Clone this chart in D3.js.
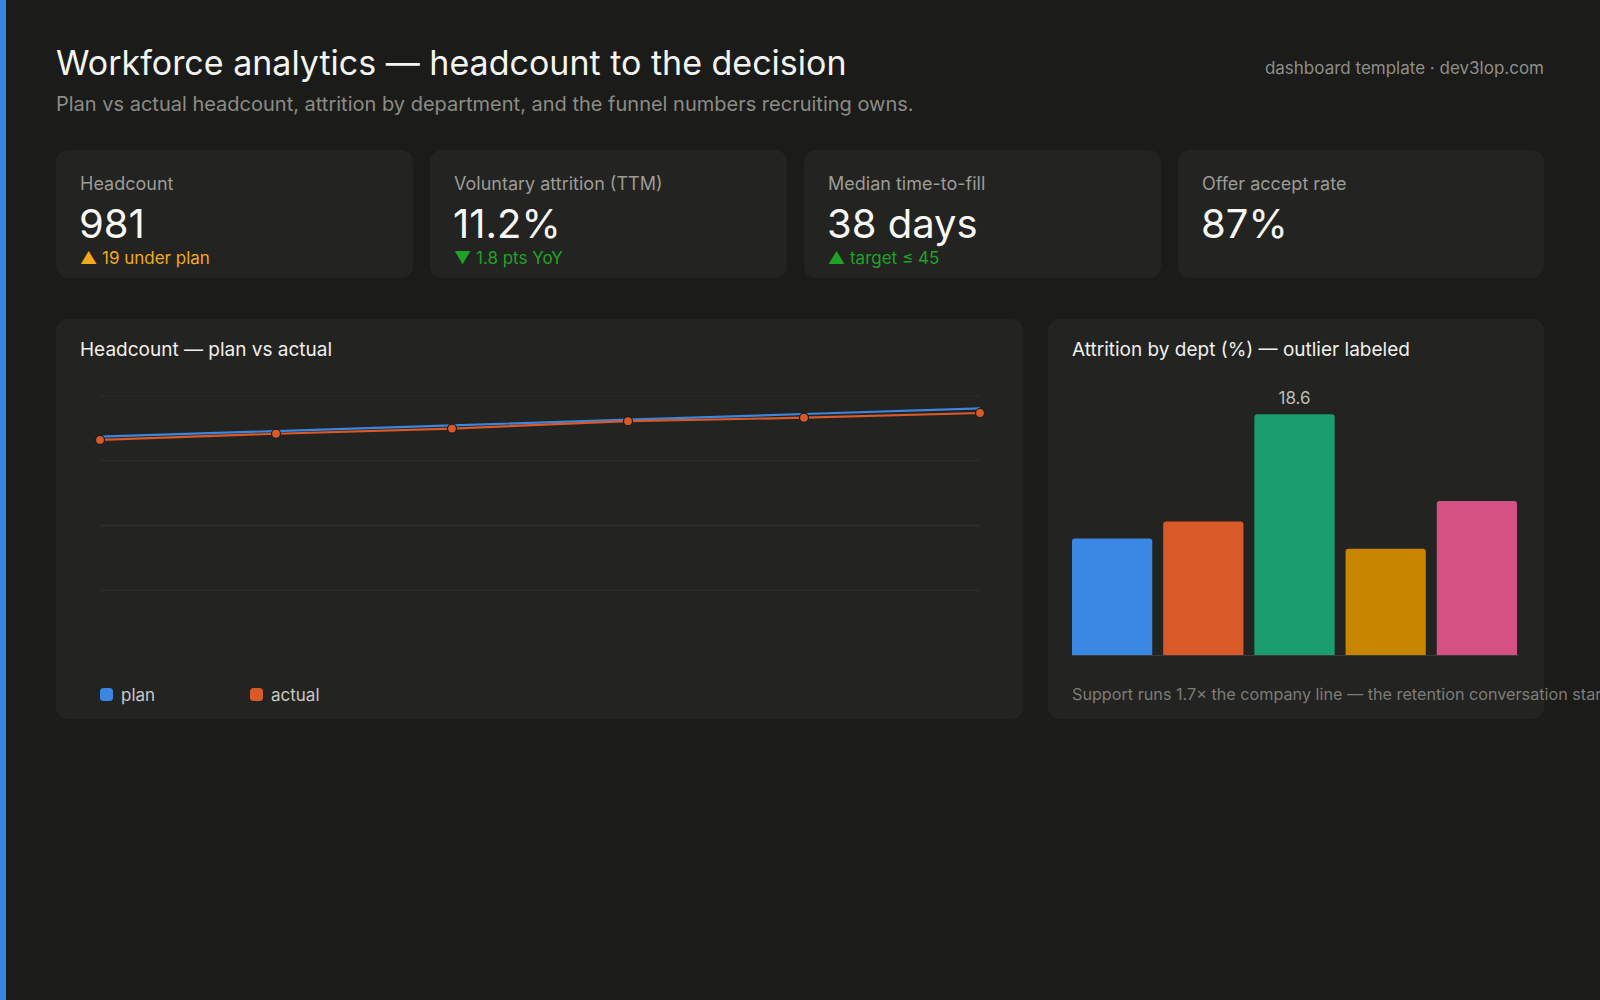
<!DOCTYPE html>
<html>
<head>
<meta charset="utf-8">
<title>Workforce analytics</title>
<script src="https://cdn.jsdelivr.net/npm/d3@7"></script>
<style>
  body { margin: 0; background: #1b1b1a; overflow: hidden; }
  svg { display: block; font-family: "Inter", "Noto Sans", sans-serif; }
</style>
</head>
<body>
<script>
// data
const months = ["Jan", "Feb", "Mar", "Apr", "May", "Jun"];
const planHeadcount = [885, 908, 931, 954, 977, 1000];
const actualHeadcount = [872, 897, 918, 948, 962, 981];

const depts = ["Engineering", "Sales", "Support", "Operations", "Marketing"];
const attritionPct = [9.0, 10.3, 18.6, 8.2, 11.9];

const kpiLabels = ["Headcount", "Voluntary attrition (TTM)", "Median time-to-fill", "Offer accept rate"];
const kpiValues = ["981", "11.2%", "38 days", "87%"];
const kpiDeltas = ["▲ 19 under plan", "▼ 1.8 pts YoY", "▲ target ≤ 45", ""];
const kpiTones = ["warn", "good", "good", ""];

const deptColors = ["#3b88e4", "#d95a28", "#1a9e70", "#c88500", "#d45283"];
const toneColor = { warn: "#f2a91f", good: "#1fa324" };

let W = 1600, H = 1000;
let svg = d3.select("body").append("svg").attr("width", W).attr("height", H);

svg.append("rect").attr("width", 6).attr("height", H).attr("fill", "#3a86e0");

// header
svg.append("text").attr("x", 56).attr("y", 75)
    .attr("font-size", 34).attr("fill", "#f4f4f0")
    .text("Workforce analytics — headcount to the decision");
svg.append("text").attr("x", 56).attr("y", 111)
    .attr("font-size", 20).attr("fill", "#8c8c86")
    .text("Plan vs actual headcount, attrition by department, and the funnel numbers recruiting owns.");
svg.append("text").attr("x", 1544).attr("y", 74).attr("text-anchor", "end")
    .attr("font-size", 17).attr("fill", "#8f8f89")
    .text("dashboard template · dev3lop.com");

// kpi cards
let cardW = 357, cardGap = 17;
kpiLabels.forEach((lab, i) => {
    let x = 56 + i * (cardW + cardGap);
    let w = i === kpiLabels.length - 1 ? 1544 - x : cardW;
    let g = svg.append("g").attr("transform", `translate(${x},150)`);
    g.append("rect").attr("width", w).attr("height", 128).attr("rx", 12).attr("fill", "#232322");
    g.append("text").attr("x", 24).attr("y", 40).attr("font-size", 18).attr("fill", "#9c9c96").text(lab);
    g.append("text").attr("x", 23).attr("y", 88).attr("font-size", 40).attr("fill", "#f7f7f3").text(kpiValues[i]);
    if (kpiDeltas[i]) {
        g.append("text").attr("x", 24).attr("y", 114).attr("font-size", 17)
            .attr("fill", toneColor[kpiTones[i]]).text(kpiDeltas[i]);
    }
});

// panels
function panel(x, w, title) {
    svg.append("rect").attr("x", x).attr("y", 319).attr("width", w).attr("height", 400)
        .attr("rx", 12).attr("fill", "#232322");
    svg.append("text").attr("x", x + 24).attr("y", 355.5).attr("font-size", 19)
        .attr("fill", "#f0f0ec").text(title);
}
panel(56, 967.5, "Headcount — plan vs actual");
panel(1048, 496, "Attrition by dept (%) — outlier labeled");

// line chart
let xS = d3.scalePoint().domain(months).range([100, 980]);
let yS = d3.scaleLinear().domain([0, 1050]).range([655, 396]);

svg.append("g").selectAll("line")
    .data(d3.range(4).map(i => 1050 * (1 - i / 4)))
    .enter().append("line")
    .attr("x1", 100).attr("x2", 980)
    .attr("y1", d => yS(d)).attr("y2", d => yS(d))
    .attr("stroke", "#2f2f2e").attr("stroke-width", 1);

let line = d3.line().x((d, i) => xS(months[i])).y(d => yS(d));

svg.append("path").datum(planHeadcount).attr("d", line)
    .attr("fill", "none").attr("stroke", "#3a86e0").attr("stroke-width", 2.2);
svg.append("path").datum(actualHeadcount).attr("d", line)
    .attr("fill", "none").attr("stroke", "#d95a28").attr("stroke-width", 2.2);
svg.append("g").selectAll("circle")
    .data(actualHeadcount).enter().append("circle")
    .attr("cx", (d, i) => xS(months[i])).attr("cy", d => yS(d)).attr("r", 4.5)
    .attr("fill", "#d95a28").attr("stroke", "#1b1b1a").attr("stroke-width", 1.2);

// legend
[["plan", "#3a86e0"], ["actual", "#d95a28"]].forEach(([name, col], i) => {
    let g = svg.append("g").attr("transform", `translate(${100 + i * 150},688)`);
    g.append("rect").attr("width", 13).attr("height", 13).attr("rx", 3.5).attr("fill", col);
    g.append("text").attr("x", 21).attr("y", 13).attr("font-size", 17).attr("fill", "#c9c9c3").text(name);
});

// bar chart
let xB = d3.scaleBand().domain(depts).range([1072, 1517]).paddingInner(0.12).paddingOuter(0);
let yB = d3.scaleLinear().domain([0, 20]).range([655, 396]);

function topRounded(x, y, w, h, r) {
    return `M${x},${y + h}V${y + r}Q${x},${y} ${x + r},${y}H${x + w - r}Q${x + w},${y} ${x + w},${y + r}V${y + h}Z`;
}

svg.append("g").selectAll("path")
    .data(attritionPct).enter().append("path")
    .attr("d", (d, i) => topRounded(xB(depts[i]), yB(d), xB.bandwidth(), yB(0) - yB(d), 3))
    .attr("fill", (d, i) => deptColors[i]);

svg.append("line").attr("x1", 1072).attr("x2", 1519)
    .attr("y1", yB(0) + 0.5).attr("y2", yB(0) + 0.5)
    .attr("stroke", "#3a3a38").attr("stroke-width", 1);

let maxI = d3.maxIndex(attritionPct);
svg.append("text")
    .attr("x", xB(depts[maxI]) + xB.bandwidth() / 2).attr("y", yB(attritionPct[maxI]) - 10)
    .attr("text-anchor", "middle").attr("font-size", 17).attr("fill", "#bdbdb7")
    .text(attritionPct[maxI].toFixed(1));

svg.append("text").attr("x", 1072).attr("y", 700)
    .attr("font-size", 16.2).attr("fill", "#7d7d77")
    .text("Support runs 1.7× the company line — the retention conversation starts here.");
</script>
</body>
</html>
